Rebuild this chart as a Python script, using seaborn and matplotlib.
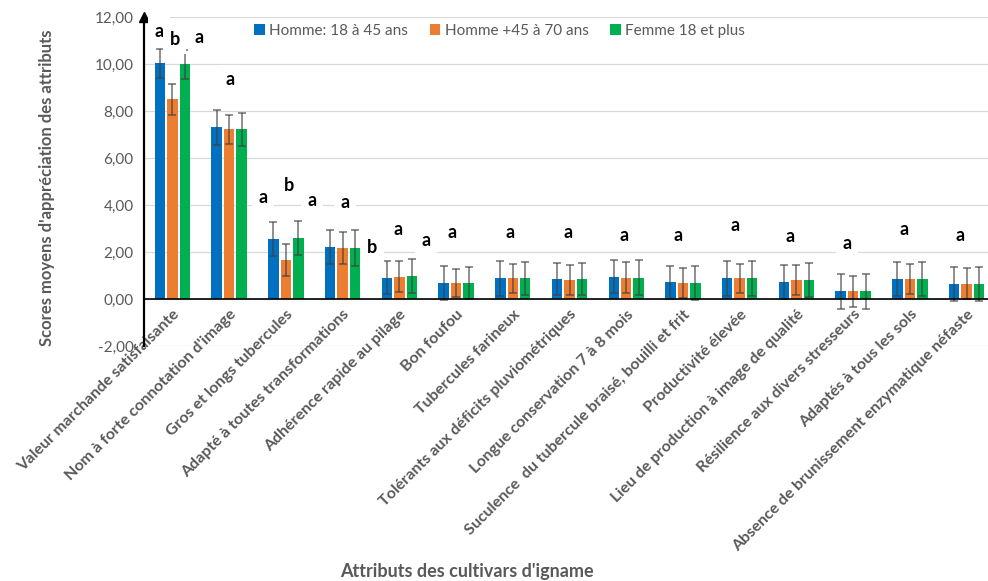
import numpy as np
import pandas as pd
import matplotlib
matplotlib.use("Agg")
import matplotlib.pyplot as plt
from matplotlib.ticker import FuncFormatter, FixedLocator
import seaborn as sns

# Attributes of yam cultivars
categories = [
    "Valeur marchande satisfaisante",
    "Nom à forte connotation d'image",
    "Gros et longs tubercules",
    "Adapté à toutes transformations",
    "Adhérence rapide au pilage",
    "Bon foufou",
    "Tubercules farineux",
    "Tolérants aux déficits pluviométriques",
    "Longue conservation 7 à 8 mois",
    "Suculence  du tubercule braisé, bouilli et frit",
    "Productivité élevée",
    "Lieu de production à image de qualité",
    "Résilience aux divers stresseurs",
    "Adaptés à tous les sols",
    "Absence de brunissement enzymatique néfaste",
]
groups = ["Homme: 18 à 45 ans", "Homme +45 à 70 ans", "Femme 18 et plus"]

homme_18_45 = [10.03, 7.30, 2.54, 2.21, 0.91, 0.68, 0.88, 0.85, 0.95, 0.72, 0.88, 0.72, 0.32, 0.85, 0.65]
homme_45_70 = [8.50, 7.22, 1.66, 2.17, 0.95, 0.68, 0.88, 0.81, 0.91, 0.68, 0.88, 0.81, 0.32, 0.85, 0.65]
femme_18 = [9.99, 7.22, 2.61, 2.17, 0.98, 0.68, 0.88, 0.85, 0.91, 0.68, 0.88, 0.81, 0.32, 0.85, 0.65]

err_homme_18_45 = [0.62, 0.73, 0.73, 0.72, 0.70, 0.74, 0.75, 0.69, 0.71, 0.70, 0.75, 0.73, 0.73, 0.74, 0.72]
err_homme_45_70 = [0.65, 0.62, 0.66, 0.66, 0.65, 0.61, 0.61, 0.64, 0.66, 0.65, 0.62, 0.64, 0.66, 0.64, 0.65]
err_femme_18 = [0.62, 0.70, 0.73, 0.75, 0.72, 0.69, 0.69, 0.68, 0.75, 0.74, 0.75, 0.72, 0.74, 0.74, 0.72]

# Significance letters
sig_letters = ["a", "b", "a", "a", "a", "b", "a", "a", "b", "a", "a",
               "a", "a", "a", "a", "a", "a", "a", "a", "a", "a"]
sig_x = [-0.24, 0.04, 0.47, 1.01, 1.60, 2.05, 2.46, 3.04, 3.52, 3.98, 4.47,
         4.93, 5.95, 6.97, 7.96, 8.91, 9.92, 10.89, 11.89, 12.90, 13.89]
sig_y = [11.40, 11.06, 11.11, 9.32, 4.30, 4.81, 4.21, 4.09, 2.21, 2.94, 2.47,
         2.85, 2.85, 2.85, 2.72, 2.72, 3.11, 2.68, 2.38, 2.94, 2.72]

colors = ["#0070C0", "#ED7D31", "#00B050"]
grey_txt = "#595959"

df = pd.DataFrame({
    "attribut": categories * 3,
    "groupe": [g for g in groups for _ in categories],
    "score": homme_18_45 + homme_45_70 + femme_18,
})
errors = [err_homme_18_45, err_homme_45_70, err_femme_18]

sns.set_theme(style="white")
plt.rcParams["font.family"] = ["Lato", "DejaVu Sans"]

fig = plt.figure(figsize=(9.88, 5.81), dpi=100)
ax = fig.add_axes([144 / 988, 1 - 346 / 581, (995 - 144) / 988, (346 - 17) / 581])

sns.barplot(data=df, x="attribut", y="score", hue="groupe", palette=colors,
            order=categories, hue_order=groups, width=0.66, gap=0.16,
            saturation=1, errorbar=None, ax=ax, zorder=3, linewidth=0)

# Error bars centred on each bar
for cont, err in zip(ax.containers, errors):
    xs = [p.get_x() + p.get_width() / 2 for p in cont.patches]
    ys = [p.get_height() for p in cont.patches]
    ax.errorbar(xs, ys, yerr=err, fmt="none", ecolor="#404040", alpha=0.75,
                elinewidth=1.1, capsize=3.2, capthick=1.1, zorder=4)

ax.set_ylim(-2, 12)
ax.set_xlim(-0.5, len(categories) - 0.5)
ax.set_yticks(np.arange(-2, 12.1, 2))
ax.yaxis.set_major_formatter(FuncFormatter(lambda v, p: f"{v:.2f}".replace(".", ",")))
ax.grid(axis="y", color="#D9D9D9", linewidth=0.9, zorder=0)
ax.set_axisbelow(True)

for s in ["top", "right"]:
    ax.spines[s].set_visible(False)
ax.spines["left"].set_color("black")
ax.spines["left"].set_linewidth(1.6)
ax.spines["bottom"].set_position(("data", 0))
ax.spines["bottom"].set_color("black")
ax.spines["bottom"].set_linewidth(1.2)
ax.spines["bottom"].set_zorder(5)

# arrow head on the value axis
ax.plot(0, 1, marker="^", color="black", markersize=7, transform=ax.transAxes,
        clip_on=False, zorder=6)

ax.tick_params(axis="y", which="major", direction="inout", length=7, width=0.8,
               color="#7F7F7F", labelsize=11, labelcolor=grey_txt, pad=4)
ax.xaxis.set_minor_locator(FixedLocator(np.arange(-0.5, len(categories), 1.0)))
ax.tick_params(axis="x", which="minor", direction="inout", length=10, width=0.9,
               color="black")
ax.tick_params(axis="x", which="major", length=0, pad=6)
ax.set_xticks(range(len(categories)))
ax.set_xticklabels(categories, rotation=45, ha="right", rotation_mode="anchor",
                   fontsize=11.5, fontweight="bold", color=grey_txt)

ax.set_xlabel("")
ax.set_ylabel("Scores moyens d'appréciation des attributs", fontsize=12,
              fontweight="bold", color=grey_txt)
ax.yaxis.set_label_coords(-0.105, 0.48)
fig.text(467 / 988, 1 - 571 / 581, "Attributs des cultivars d'igname",
         ha="center", va="center", fontsize=13, fontweight="bold", color=grey_txt)

for t, x, y in zip(sig_letters, sig_x, sig_y):
    ax.text(x, y, t, ha="center", va="center", fontsize=13, fontweight="bold",
            color="black", zorder=7,
            bbox=dict(boxstyle="square,pad=0.35", fc="white", ec="none"))

leg = ax.legend(loc="center", bbox_to_anchor=(0.418, 0.957), ncol=3, frameon=False,
                fontsize=11, handlelength=0.7, handleheight=0.7, handletextpad=0.3,
                columnspacing=1.4)
for txt in leg.get_texts():
    txt.set_color(grey_txt)

fig.savefig("out.png", dpi=100, facecolor="white")
